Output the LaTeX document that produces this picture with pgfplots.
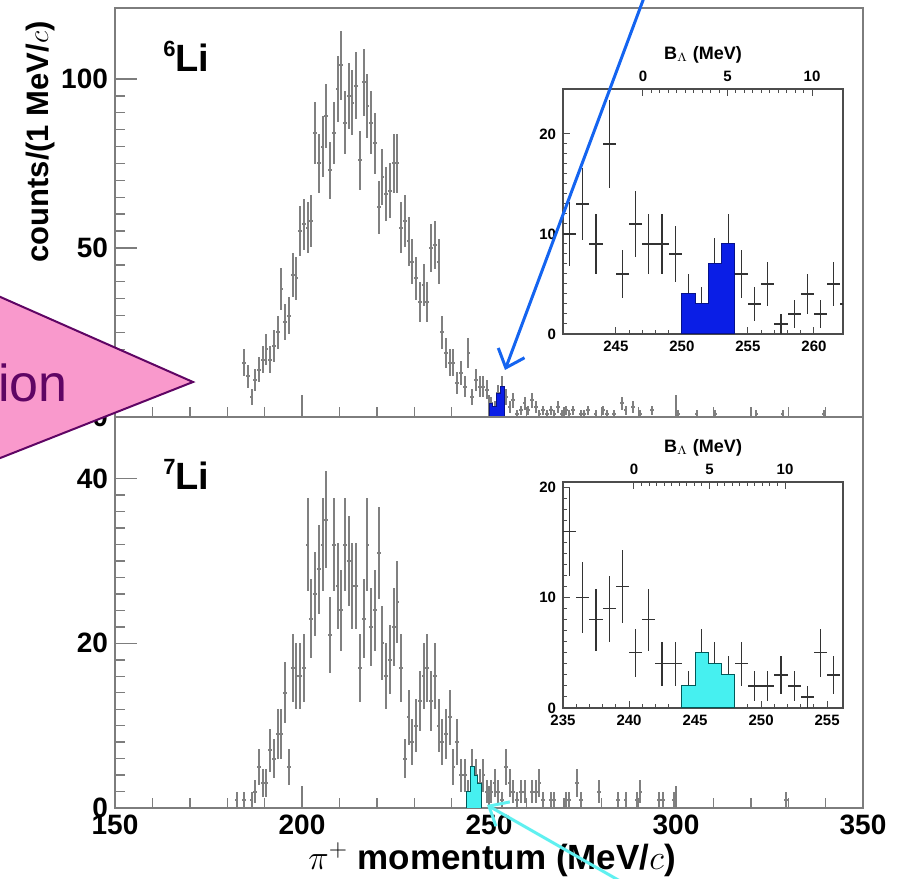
\documentclass[border=0pt]{standalone}
\usepackage{fontspec}
\setmainfont{Liberation Sans}
\usepackage{pgfplots}
\usepackage{pgfplotstable}
\pgfplotsset{compat=1.18}
\usetikzlibrary{arrows.meta}

\definecolor{framegray}{RGB}{125,125,125}
\definecolor{barblue}{RGB}{10,30,230}
\definecolor{barcyan}{RGB}{70,240,240}
\definecolor{arrowblue}{RGB}{20,100,240}
\definecolor{arrowcyan}{RGB}{95,240,240}
\definecolor{shapepink}{RGB}{249,153,204}
\definecolor{shapepurple}{RGB}{95,5,100}

% 6Li: bin centre, counts, sqrt(counts)
\pgfplotstableread{
x y e
184.5 16 4
185.5 12 3.5
186.5 6 2.4
187.5 11 3.3
188.5 14 3.7
189.5 17 4.1
190.5 20 4.5
191.5 17 4.1
192.5 21 4.6
193.5 25 5
194.5 38 6.2
195.5 28 5.3
196.5 30 5.5
197.5 42 6.5
198.5 41 6.4
199.5 55 7.4
200.5 57 7.5
201.5 56 7.5
202.5 58 7.6
203.5 84 9.2
204.5 75 8.7
205.5 80 8.9
206.5 89 9.4
207.5 73 8.5
208.5 84 9.2
209.5 97 9.8
210.5 104 10.2
211.5 87 9.3
212.5 95 9.7
213.5 93 9.6
214.5 98 9.9
215.5 76 8.7
216.5 99 9.9
217.5 92 9.6
218.5 87 9.3
219.5 81 9
220.5 62 7.9
221.5 71 8.4
222.5 66 8.1
223.5 67 8.2
224.5 75 8.7
225.5 75 8.7
226.5 56 7.5
227.5 58 7.6
228.5 52 7.2
229.5 46 6.8
230.5 41 6.4
231.5 34 5.8
232.5 39 6.2
233.5 34 5.8
234.5 50 7.1
235.5 51 7.1
236.5 46 6.8
237.5 25 5
238.5 19 4.4
239.5 16 4
240.5 16 4
241.5 10 3.2
242.5 13 3.6
243.5 9 3
244.5 19 4.4
245.5 6 2.4
246.5 11 3.3
247.5 9 3
248.5 9 3
249.5 8 2.8
250.5 4 2
251.5 3 1.7
252.5 7 2.6
253.5 9 3
254.5 6 2.4
255.5 3 1.7
256.5 5 2.2
257.5 1 1
258.5 2 1.4
259.5 4 2
260.5 2 1.4
261.5 5 2.2
262.5 3 1.7
263.5 1 1
264.5 2 1.4
265.5 1 1
266.5 2 1.4
267.5 1 1
268.5 3 1.7
269.5 1 1
270.5 2 1.4
271.5 1 1
272.5 2 1.4
274.5 1 1
275.5 1 1
276.5 2 1.4
278.5 1 1
280.5 2 1.4
281.5 1 1
283.5 1 1
285.5 4 2
286.5 2 1.4
288.5 3 1.7
290.5 1 1
293.5 2 1.4
300.5 1 1
305.5 1 1
310.5 1 1
321.5 1 1
328.5 1 1
339.5 1 1
}\sixli

% 7Li
\pgfplotstableread{
x y e
182.5 1 1
184.5 1 1
186.5 1 1
187.5 2 1.4
188.5 5 2.2
189.5 3 1.7
190.5 3 1.7
191.5 7 2.6
192.5 6 2.4
193.5 9 3
194.5 9 3
195.5 14 3.7
196.5 5 2.2
197.5 17 4.1
198.5 16 4
199.5 16 4
200.5 17 4.1
201.5 32 5.7
202.5 23 4.8
203.5 26 5.1
204.5 29 5.4
205.5 32 5.7
206.5 35 5.9
207.5 21 4.6
208.5 32 5.7
209.5 27 5.2
210.5 24 4.9
211.5 32 5.7
212.5 30 5.5
213.5 27 5.2
214.5 27 5.2
215.5 17 4.1
216.5 23 4.8
217.5 32 5.7
218.5 22 4.7
219.5 24 4.9
220.5 31 5.6
221.5 20 4.5
222.5 16 4
223.5 18 4.2
224.5 22 4.7
225.5 25 5
226.5 17 4.1
227.5 6 2.4
228.5 11 3.3
229.5 8 2.8
230.5 10 3.2
231.5 13 3.6
232.5 16 4
233.5 17 4.1
234.5 13 3.6
235.5 16 4
236.5 10 3.2
237.5 8 2.8
238.5 9 3
239.5 11 3.3
240.5 5 2.2
241.5 8 2.8
242.5 4 2
243.5 4 2
244.5 2 1.4
245.5 5 2.2
246.5 4 2
247.5 3 1.7
248.5 4 2
249.5 2 1.4
250.5 2 1.4
251.5 3 1.7
252.5 2 1.4
253.5 1 1
254.5 5 2.2
255.5 3 1.7
256.5 2 1.4
257.5 1 1
258.5 2 1.4
259.5 2 1.4
261.5 2 1.4
262.5 2 1.4
263.5 3 1.7
264.5 1 1
266.5 1 1
267.5 1 1
270.5 1 1
271.5 1 1
273.5 3 1.7
274.5 1 1
279.5 2 1.4
284.5 1 1
286.5 1 1
289.5 1 1
290.5 2 1.4
295.5 1 1
296.5 1 1
299.5 1 1
329.5 1 1
}\sevenli

\pgfplotsset{
  mainpanel/.style={
    scale only axis, width=374pt, anchor=south west,
    xmin=150, xmax=350, ymin=0,
    axis line style={framegray, line width=0.8pt},
    tick pos=left, tick align=inside,
    major tick length=11pt, minor tick length=5pt,
    every tick/.append style={framegray, line width=0.7pt},
    xtick={150,200,...,350}, minor x tick num=4,
    ticklabel style={font=\fontsize{14}{14}\selectfont\bfseries},
    /pgf/number format/assume math mode=true,
  },
  inset/.style={
    scale only axis, width=140pt, anchor=south west, ymin=0,
    axis background/.style={fill=white},
    axis line style={black!70, line width=0.6pt},
    tick pos=left, tick align=inside,
    major tick length=3.5pt, minor tick length=2pt,
    every tick/.append style={black!70, line width=0.5pt},
    ticklabel style={font=\fontsize{7.5}{7.5}\selectfont\bfseries},
    /pgf/number format/assume math mode=true,
    ytick={0,10,20}, minor y tick num=9, minor x tick num=4,
  },
  baxis/.style={
    scale only axis, width=140pt, anchor=south west, ymin=0, ymax=1,
    axis x line*=top, axis y line=none,
    axis line style={black!70, line width=0.6pt},
    tick align=inside, major tick length=3.5pt, minor tick length=2pt,
    every tick/.append style={black!70, line width=0.5pt},
    xtick={0,5,10}, minor x tick num=9,
    ticklabel style={font=\fontsize{7.5}{7.5}\selectfont\bfseries},
    /pgf/number format/assume math mode=true,
    xlabel={B$_{\Lambda}$ (MeV)},
    xlabel style={font=\fontsize{9}{9}\selectfont\bfseries, yshift=-3pt},
  },
  hist/.style={draw=none, mark=none, forget plot,
    error bars/.cd, x dir=both, x fixed=0.5, y dir=both, y explicit,
    error mark=none, error bar style={#1}},
}

\begin{document}
\begin{tikzpicture}
\path[use as bounding box] (0,0) rectangle (455pt,439pt);
\clip (0,0) rectangle (455pt,439pt);

% top panel, 6Li
\begin{axis}[mainpanel, at={(57.5pt,230.5pt)}, height=204.5pt, ymax=121,
  xticklabels={}, ytick={0,50,100}, minor y tick num=9]
\addplot[hist={draw=black!50, line width=1pt}] table[x=x, y=y, y error=e] {\sixli};
\addplot[const plot, fill=barblue, draw=barblue!60!black, line width=0.4pt]
  coordinates {(250,4) (251,3) (252,7) (253,9) (254,9)} \closedcycle;
\end{axis}

% bottom panel, 7Li
\begin{axis}[mainpanel, at={(57.5pt,35pt)}, height=195.5pt, ymax=47.5,
  ytick={0,20,40}, minor y tick num=9]
\addplot[hist={draw=black!50, line width=1pt}] table[x=x, y=y, y error=e] {\sevenli};
\addplot[const plot, fill=barcyan, draw=teal!70!black, line width=0.4pt]
  coordinates {(244,2) (245,5) (246,4) (247,3) (248,3)} \closedcycle;
\end{axis}

% inset 6Li
\begin{axis}[inset, at={(281.5pt,272pt)}, height=122.5pt,
  xmin=241, xmax=262.2, ymax=24.5, xtick={245,250,...,260}]
\addplot[restrict x to domain=240.9:262.5, hist={draw=black!80, line width=0.6pt}]
  table[x=x, y=y, y error=e] {\sixli};
\addplot[const plot, fill=barblue, draw=barblue!60!black, line width=0.5pt]
  coordinates {(250,4) (251,3) (252,7) (253,9) (254,9)} \closedcycle;
\end{axis}
\begin{axis}[baxis, at={(281.5pt,272pt)}, height=122.5pt, xmin=-4.73, xmax=11.83]
\addplot[draw=none] coordinates {(0,0)};
\end{axis}

% inset 7Li
\begin{axis}[inset, at={(281.5pt,85pt)}, height=113pt,
  xmin=235, xmax=256.2, ymax=20.5, xtick={235,240,...,255}]
\addplot[restrict x to domain=234.9:256.1, hist={draw=black!80, line width=0.6pt}]
  table[x=x, y=y, y error=e] {\sevenli};
\addplot[const plot, fill=barcyan, draw=teal!70!black, line width=0.5pt]
  coordinates {(244,2) (245,5) (246,4) (247,3) (248,3)} \closedcycle;
\end{axis}
\begin{axis}[baxis, at={(281.5pt,85pt)}, height=113pt, xmin=-4.7, xmax=13.84]
\addplot[draw=none] coordinates {(0,0)};
\end{axis}

% labels
\node[rotate=90, font=\fontsize{15.5}{15.5}\selectfont\bfseries] at (20pt,368pt) {counts/(1 MeV/$c$)};
\node[anchor=base, font=\fontsize{17.5}{17.5}\selectfont\bfseries] at (246pt,4.5pt) {$\pi^{+}$ momentum (MeV/$c$)};
\node[anchor=base west, inner sep=0pt, font=\fontsize{19}{19}\selectfont\bfseries] at (81.5pt,403pt)
  {\raisebox{0.42em}{\fontsize{11}{11}\selectfont 6}Li};
\node[anchor=base west, inner sep=0pt, font=\fontsize{19}{19}\selectfont\bfseries] at (81.5pt,194pt)
  {\raisebox{0.42em}{\fontsize{11}{11}\selectfont 7}Li};

% callout shape
\filldraw[fill=shapepink, draw=shapepurple, line width=1pt]
  (-10pt,295pt) -- (96.5pt,248pt) -- (-10pt,206pt) -- cycle;
\node[anchor=base west, inner sep=0pt, text=shapepurple, font=\fontsize{26}{26}\selectfont] at (-1pt,238pt) {ion};

% arrows
\draw[arrowblue, line width=1.5pt, -{Straight Barb[length=8pt, width=14pt]}] (322.5pt,441.5pt) -- (252.5pt,254pt);
\draw[arrowcyan, line width=1.5pt, -{Straight Barb[length=8pt, width=14pt]}] (313.5pt,-3.5pt) -- (243.5pt,36.5pt);
\end{tikzpicture}
\end{document}
